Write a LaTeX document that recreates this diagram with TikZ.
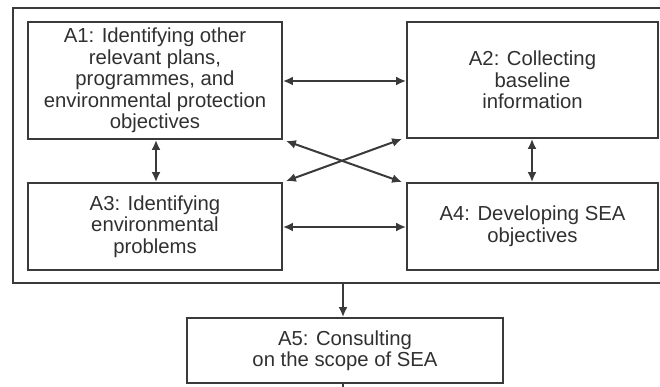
\documentclass[tikz,border=0pt]{standalone}
\usepackage{fontspec}
\setmainfont{Liberation Sans}
\usetikzlibrary{arrows.meta,calc}
\definecolor{ln}{HTML}{3A3A3A}
\definecolor{tx}{HTML}{303030}
\begin{document}
\begin{tikzpicture}[x=1pt,y=-1pt,
  box/.style={draw=ln,line width=1.8pt,rectangle,inner sep=0pt,align=center,
    text=tx,font=\fontsize{20.3}{21.5}\selectfont},
  con/.style={draw=ln,line width=2pt,{Latex[length=10pt,width=9pt]}-{Latex[length=10pt,width=9pt]}},
  one/.style={draw=ln,line width=2pt,-{Latex[length=10pt,width=9pt]}}]
\useasboundingbox (0,0) rectangle (660,387);
\node[draw=ln,line width=2pt,minimum width=649pt,minimum height=275pt,inner sep=0pt] (outer) at (337.5,145.5) {};
\node[box,minimum width=254pt,minimum height=117pt] (A1) at (155,80.5)
  {A1: Identifying other\\relevant plans,\\programmes, and\\environmental protection\\objectives};
\node[box,minimum width=251pt,minimum height=116pt] (A2) at (532.5,80)
  {A2: Collecting\\baseline\\information};
\node[box,minimum width=254pt,minimum height=87pt] (A3) at (155,226.5)
  {A3: Identifying\\environmental\\problems};
\node[box,minimum width=251pt,minimum height=87pt] (A4) at (532.5,226.5)
  {A4: Developing SEA\\objectives};
\node[box,minimum width=316pt,minimum height=65pt] (A5) at (345,350.5)
  {A5: Consulting\\on the scope of SEA};
\coordinate (ob) at (343,283);
\coordinate (stub) at (343,395);
\coordinate (h1) at (0,81);
\coordinate (h2) at (0,227);
\coordinate (v1) at (156,0);
\coordinate (v2) at (532,0);
\draw[con] (A1.east |- h1) -- (A2.west |- h1);
\draw[con] (A3.east |- h2) -- (A4.west |- h2);
\draw[con] (A1.south -| v1) -- (A3.north -| v1);
\draw[con] (A2.south -| v2) -- (A4.north -| v2);
\draw[con] ([shift={(3,1)}]A1.south east) -- ([shift={(-4,0)}]A4.north west);
\draw[con] ([shift={(3,-1)}]A3.north east) -- ([shift={(-4,0)}]A2.south west);
\draw[one] (ob) -- (ob |- A5.north);
\draw[draw=ln,line width=2pt] (ob |- A5.south) -- (stub);
\end{tikzpicture}
\end{document}
